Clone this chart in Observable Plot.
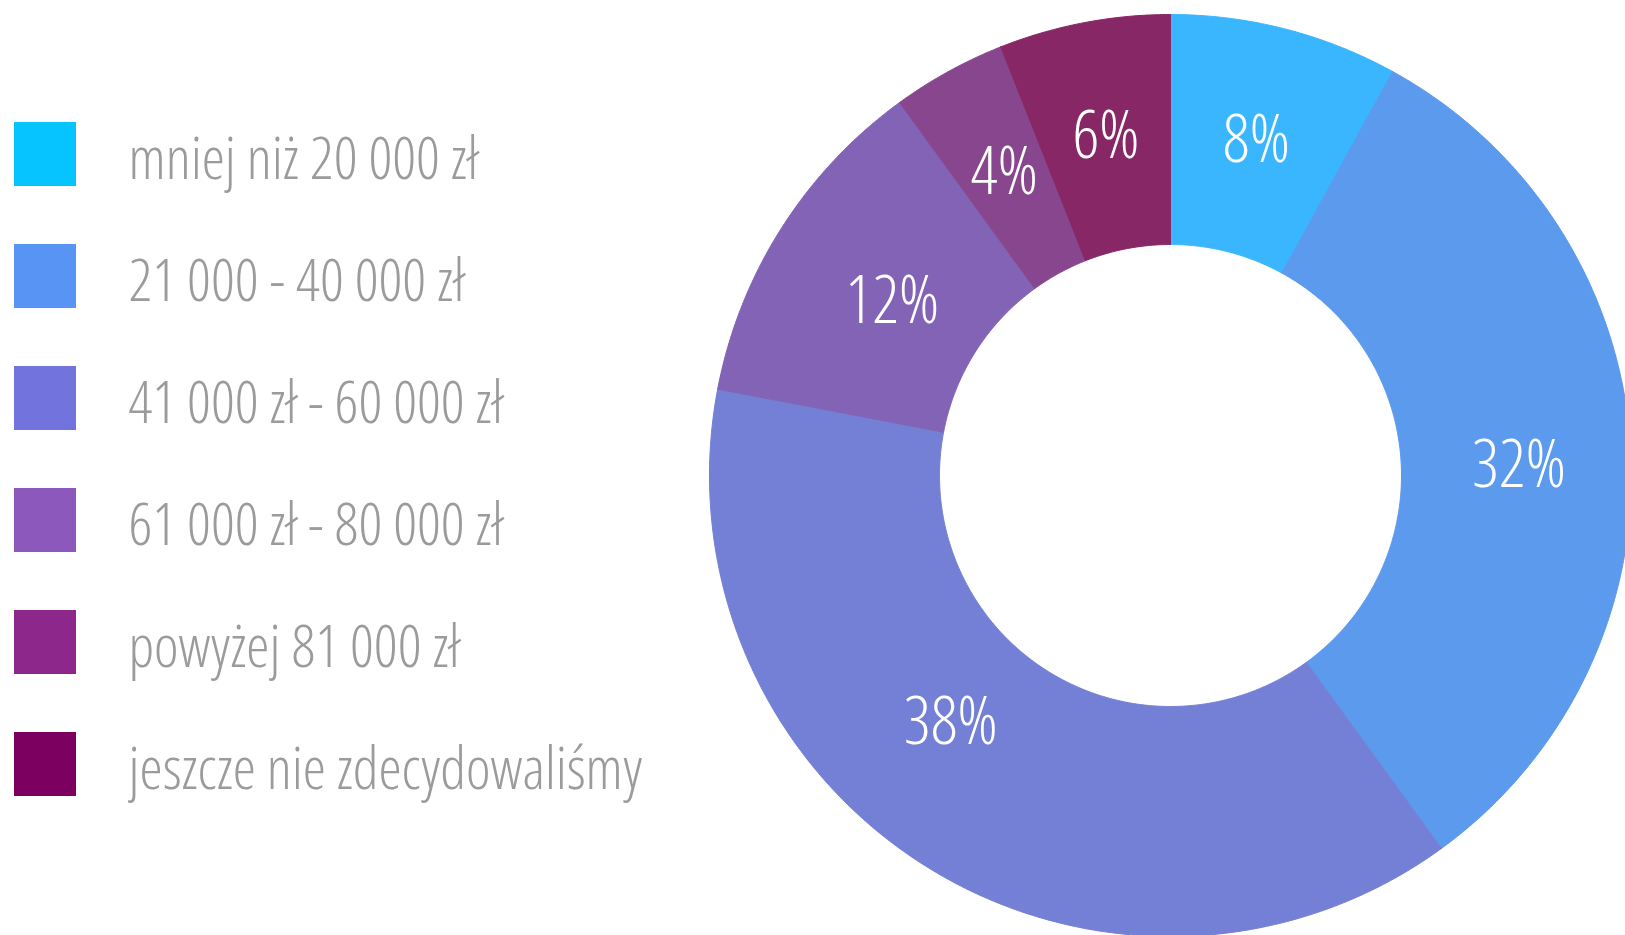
<!DOCTYPE html>
<html>
<head>
<meta charset="utf-8">
<script src="https://cdn.jsdelivr.net/npm/d3@7"></script>
<script src="https://cdn.jsdelivr.net/npm/@observablehq/plot@0.6"></script>
<style>
  html, body { margin: 0; padding: 0; background: #fff; }
  #wrap { display: flex; flex-direction: row; width: 1625px; height: 935px; overflow: hidden; }
  svg text { font-stretch: 75%; }
</style>
</head>
<body>
<div id="wrap"></div>
<script>
// ---- data ----
const categories = [
  "mniej niż 20 000 zł",
  "21 000 - 40 000 zł",
  "41 000 zł - 60 000 zł",
  "61 000 zł - 80 000 zł",
  "powyżej 81 000 zł",
  "jeszcze nie zdecydowaliśmy"
];
const values = [8, 32, 38, 12, 4, 6];
const legendColors = ["#06c4ff", "#5794f4", "#7373dd", "#8d58bc", "#8e278b", "#7c005f"];
const sliceColors = ["#3ab6ff", "#5c9aee", "#747fd6", "#8363b6", "#88468f", "#872765"];

// ---- layout constants ----
const H = 935;
const legendW = 680, donutW = 1625 - legendW;
const cx = 1170, cy = 475;
const rOuter = 461, rInner = 231, rLabel = 345;
// small pixel nudges of the percentage labels away from the slice centroid (as in the original)
const labelNudge = [[0, 0], [4, 12], [-35, -44], [13, 11], [0, 0], [0, 0]];
const font = "'Open Sans', 'Liberation Sans Narrow', sans-serif";

const rows = categories.map((name, i) => ({name, value: values[i]}));

// ---- legend ----
const legend = Plot.plot({
  width: legendW, height: H, margin: 0,
  x: {type: "band", domain: ["k"], range: [14, 76], padding: 0, axis: null},
  y: {type: "band", domain: categories, range: [120, 798], paddingInner: 0.474, paddingOuter: 0, axis: null},
  color: {domain: categories, range: legendColors},
  marks: [
    Plot.cell(rows, {x: () => "k", y: "name", fill: "name", inset: 0}),
    Plot.text(rows, {x: () => "k", y: "name", text: "name", textAnchor: "start", dx: 83, dy: 6,
      fill: "#9b9b9b", fontSize: 58.5, fontWeight: 300, fontFamily: font})
  ]
});

// ---- donut geometry from values ----
const total = d3.sum(values);
const pts = [];
const labels = [];
let cum = 0;
rows.forEach((r, i) => {
  const a0 = cum / total * 2 * Math.PI;
  cum += r.value;
  const a1 = cum / total * 2 * Math.PI;
  const n = Math.max(2, Math.ceil((a1 - a0) / (Math.PI / 360)));
  for (let k = 0; k <= n; k++) {
    const a = a0 + (a1 - a0) * k / n;
    pts.push({name: r.name, x: rOuter * Math.sin(a), y: rOuter * Math.cos(a)});
  }
  for (let k = n; k >= 0; k--) {
    const a = a0 + (a1 - a0) * k / n;
    pts.push({name: r.name, x: rInner * Math.sin(a), y: rInner * Math.cos(a)});
  }
  pts.push({name: r.name, x: rOuter * Math.sin(a0), y: rOuter * Math.cos(a0)});
  const am = (a0 + a1) / 2;
  labels.push({
    name: r.name, text: r.value + "%",
    x: rLabel * Math.sin(am) + labelNudge[i][0],
    y: rLabel * Math.cos(am) - labelNudge[i][1]
  });
});

const donut = Plot.plot({
  width: donutW, height: H, margin: 0,
  x: {domain: [-(cx - legendW), 1625 - cx], axis: null},
  y: {domain: [-(H - cy), cy], axis: null},
  color: {domain: categories, range: sliceColors},
  marks: [
    Plot.line(pts, {x: "x", y: "y", z: "name", fill: "name", stroke: "name", strokeWidth: 1, curve: "linear"}),
    Plot.text(labels, {x: "x", y: "y", text: "text", fill: "white", fontSize: 66, fontWeight: 300, fontFamily: font})
  ]
});

const wrap = document.getElementById("wrap");
wrap.appendChild(legend);
wrap.appendChild(donut);
</script>
</body>
</html>
